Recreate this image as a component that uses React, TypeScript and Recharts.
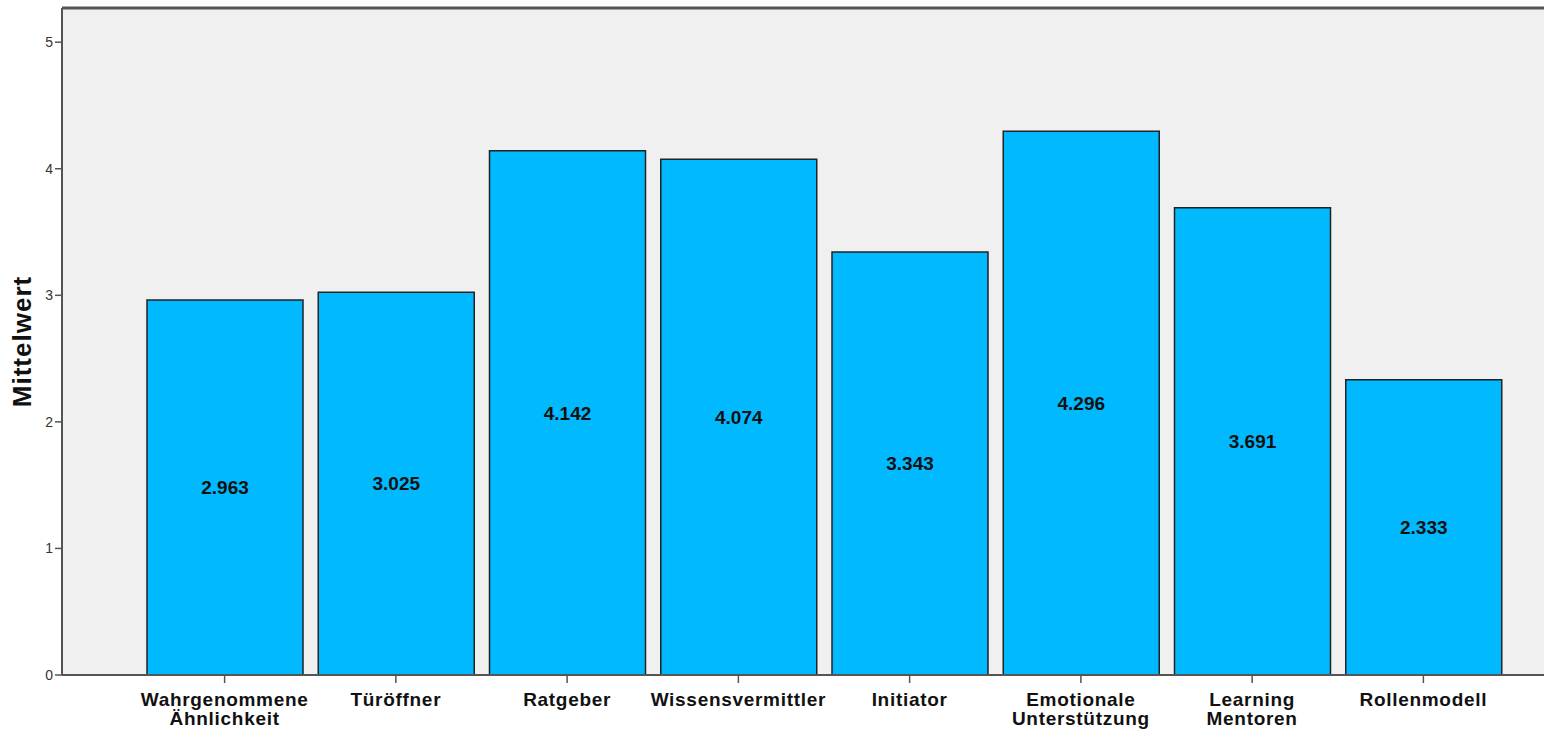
import React from 'react';
import { BarChart, Bar, XAxis, YAxis, CartesianGrid, LabelList, ReferenceLine } from 'recharts';

const categories = [
  'Wahrgenommene\nÄhnlichkeit',
  'Türöffner',
  'Ratgeber',
  'Wissensvermittler',
  'Initiator',
  'Emotionale\nUnterstützung',
  'Learning\nMentoren',
  'Rollenmodell',
];
const means = [2.963, 3.025, 4.142, 4.074, 3.343, 4.296, 3.691, 2.333];
const yTicks = [0, 1, 2, 3, 4, 5];
const yMax = 5.27;

const data = categories.map((c, i) => ({ name: c, value: means[i] }));

const FONT = '"Liberation Sans", Arial, sans-serif';

const XTick = (props: any) => {
  const { x, y, payload } = props;
  const lines = String(payload.value).split('\n');
  return (
    <text x={x} y={y + 21} textAnchor="middle" fontFamily={FONT} fontWeight="bold" fontSize={19} letterSpacing={0.7} fill="#111">
      {lines.map((l: string, i: number) => (
        <tspan key={i} x={x} dy={i === 0 ? 0 : 19}>{l}</tspan>
      ))}
    </text>
  );
};

export default function App() {
  return (
    <div style={{ position: 'fixed', left: 0, top: 0, width: 1544, height: 734, background: '#fff' }}>
      <BarChart width={1544} height={734} data={data} margin={{ top: 8, right: 0, bottom: 0, left: 0 }}>
        <CartesianGrid fill="#f0f0f0" horizontal={false} vertical={false} />
        <XAxis
          dataKey="name"
          interval={0}
          padding={{ left: 77, right: 35 }}
          tick={<XTick />}
          tickSize={8}
          axisLine={{ stroke: '#555', strokeWidth: 2 }}
          tickLine={{ stroke: '#555', strokeWidth: 1.5 }}
          height={59}
        />
        <YAxis
          width={62}
          domain={[0, yMax]}
          ticks={yTicks}
          allowDataOverflow
          tickSize={7}
          axisLine={{ stroke: '#555', strokeWidth: 2 }}
          tickLine={{ stroke: '#555', strokeWidth: 1.5 }}
          tick={{ fontFamily: FONT, fontSize: 14, fill: '#333' }}
          label={{ value: 'Mittelwert', angle: -90, position: 'center', dx: -9, style: { fontFamily: FONT, fontWeight: 'bold', fontSize: 26, letterSpacing: 1, fill: '#111' } }}
        />
        <ReferenceLine y={yMax} stroke="#555" strokeWidth={3} ifOverflow="visible" />
        <Bar dataKey="value" fill="#00b9ff" stroke="#222" strokeWidth={1.5} barSize={156} isAnimationActive={false}>
          <LabelList
            dataKey="value"
            position="center"
            formatter={(v: any) => Number(v).toFixed(3)}
            style={{ fontFamily: FONT, fontWeight: 'bold', fontSize: 19, fill: '#111' }}
          />
        </Bar>
      </BarChart>
    </div>
  );
}
